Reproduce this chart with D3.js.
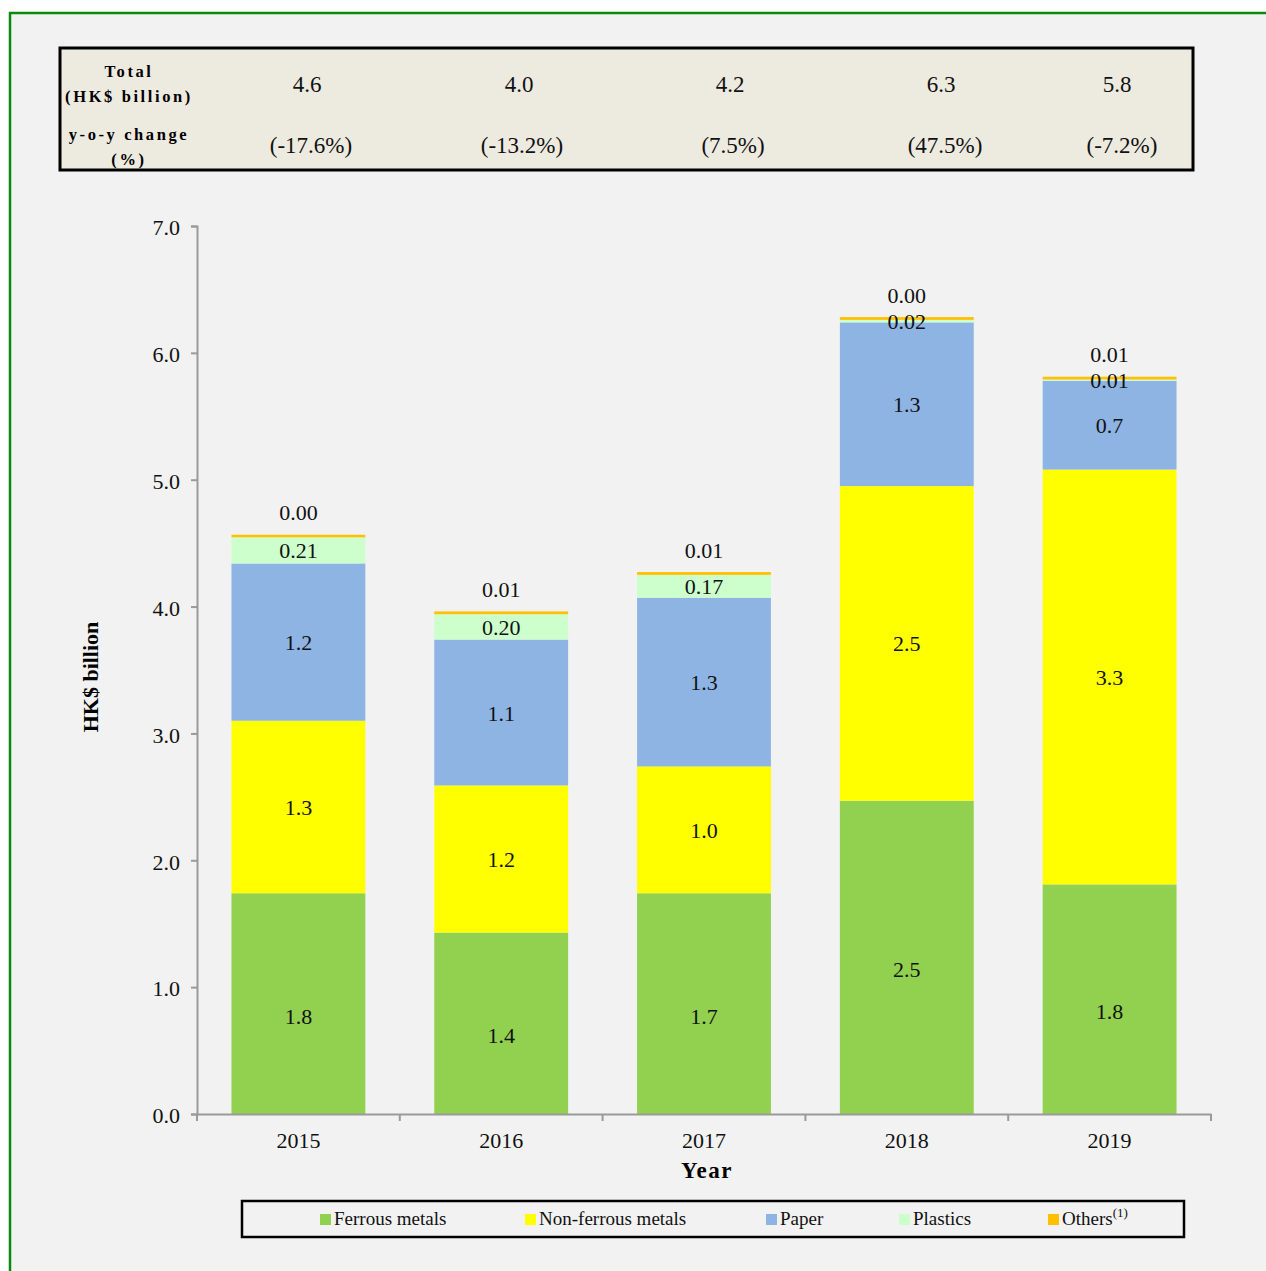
<!DOCTYPE html>
<html><head><meta charset="utf-8">
<script src="https://cdn.jsdelivr.net/npm/d3@7"></script>
<style>body{margin:0;background:#fff;} svg{display:block;}</style>
</head><body>
<svg id="chart" width="1266" height="1271"></svg>
<script>
const years = ["2015","2016","2017","2018","2019"];
const seriesNames = ["Ferrous metals","Non-ferrous metals","Paper","Plastics","Others"];
const ferrous    = [1.74, 1.43, 1.74, 2.47, 1.81];
const nonFerrous = [1.36, 1.16, 1.00, 2.48, 3.27];
const paper      = [1.24, 1.15, 1.33, 1.29, 0.70];
const plastics   = [0.21, 0.20, 0.18, 0.02, 0.01];
const others     = [0.004, 0.01, 0.01, 0.01, 0.01];
const ferrousLbl    = ["1.8","1.4","1.7","2.5","1.8"];
const nonFerrousLbl = ["1.3","1.2","1.0","2.5","3.3"];
const paperLbl      = ["1.2","1.1","1.3","1.3","0.7"];
const plasticsLbl   = ["0.21","0.20","0.17","0.02","0.01"];
const othersLbl     = ["0.00","0.01","0.01","0.00","0.01"];
const totals  = ["4.6","4.0","4.2","6.3","5.8"];
const yoy     = ["(-17.6%)","(-13.2%)","(7.5%)","(47.5%)","(-7.2%)"];
const yTicks  = [0,1,2,3,4,5,6,7];
const colors  = ["#92d050","#ffff00","#8eb4e3","#ccffcc","#ffc000"];

const svg = d3.select("#chart");
const serif = "'Liberation Serif','Times New Roman',serif";

// frame
svg.append("rect").attr("x",10).attr("y",13).attr("width",1270).attr("height",1280)
  .attr("fill","#f2f2f2").attr("stroke","#0a8a0a").attr("stroke-width",2.5);

// table
svg.append("rect").attr("x",60).attr("y",48).attr("width",1133).attr("height",122)
  .attr("fill","#edeae0").attr("stroke","#000").attr("stroke-width",3);
const hdr = [["Total",73],["(HK$ billion)",98],["y-o-y change",136],["(%)",161]];
svg.selectAll("text.hdr").data(hdr).enter().append("text")
  .attr("x",129).attr("y",d=>d[1]).attr("text-anchor","middle").attr("dominant-baseline","middle")
  .attr("font-family",serif).attr("font-weight","bold").attr("font-size",16.5)
  .attr("letter-spacing",2.6).text(d=>d[0]);
const totX = [307,519,730,941,1117];
const yoyX = [311,522,733,945,1122];
svg.selectAll("text.tot").data(totals).enter().append("text")
  .attr("x",(d,i)=>totX[i]).attr("y",87).attr("text-anchor","middle").attr("dominant-baseline","middle")
  .attr("font-family",serif).attr("font-size",23).attr("fill","#111").text(d=>d);
svg.selectAll("text.yoy").data(yoy).enter().append("text")
  .attr("x",(d,i)=>yoyX[i]).attr("y",148).attr("text-anchor","middle").attr("dominant-baseline","middle")
  .attr("font-family",serif).attr("font-size",23).attr("fill","#111").text(d=>d);

// scales
const x = d3.scaleBand().domain(years).range([197,1211]).paddingInner(0.34).paddingOuter(0.17);
const y = d3.scaleLinear().domain([0,7]).range([1114,226]);

const table = years.map((yr,i)=>({year:yr, s0:ferrous[i], s1:nonFerrous[i], s2:paper[i], s3:plastics[i], s4:others[i]}));
const stack = d3.stack().keys(["s0","s1","s2","s3","s4"])(table);
const labels = [ferrousLbl, nonFerrousLbl, paperLbl, plasticsLbl, othersLbl];

stack.forEach((layer,k)=>{
  svg.append("g").selectAll("rect").data(layer).enter().append("rect")
    .attr("x",d=>x(d.data.year)).attr("width",x.bandwidth())
    .attr("y",d=>y(d[1]) - (k===4?1.5:0))
    .attr("height",d=>Math.max(y(d[0])-y(d[1]) + (k===4?1.5:0), k===4?2.5:0))
    .attr("fill",colors[k]);
});
stack.forEach((layer,k)=>{
  svg.append("g").selectAll("text").data(layer).enter().append("text")
    .attr("x",d=>x(d.data.year)+x.bandwidth()/2)
    .attr("y",d=> k===4 ? y(d[1])-21 : (y(d[0])+y(d[1]))/2 + (k===0?15:3))
    .attr("text-anchor","middle").attr("dominant-baseline","middle")
    .attr("font-family",serif).attr("font-size",22).attr("fill","#111")
    .text((d,i)=>labels[k][i]);
});

// axes
const axisColor = "#9a9a9a";
const yAxis = svg.append("g").attr("transform","translate(197,0)")
  .call(d3.axisLeft(y).tickValues(yTicks).tickFormat(d3.format(".1f")).tickSize(6).tickPadding(11));
yAxis.select(".domain").attr("stroke",axisColor).attr("stroke-width",2);
yAxis.selectAll(".tick line").attr("stroke",axisColor).attr("stroke-width",2);
yAxis.selectAll("text").attr("font-family",serif).attr("font-size",22).attr("fill","#111").attr("dy","0.4em");

const xAxis = svg.append("g").attr("transform","translate(0,1114)")
  .call(d3.axisBottom(x).tickSize(0).tickPadding(18));
xAxis.select(".domain").attr("stroke",axisColor).attr("stroke-width",2);
xAxis.selectAll("text").attr("font-family",serif).attr("font-size",22).attr("fill","#111");
const bounds = years.map(yr=>x(yr)-(x.step()-x.bandwidth())/2).concat([1211]);
svg.append("g").selectAll("line").data(bounds).enter().append("line")
  .attr("x1",d=>d).attr("x2",d=>d).attr("y1",1114).attr("y2",1121)
  .attr("stroke",axisColor).attr("stroke-width",2);

svg.append("text").attr("x",707).attr("y",1173).attr("text-anchor","middle").attr("dominant-baseline","middle")
  .attr("font-family",serif).attr("font-weight","bold").attr("font-size",23).attr("letter-spacing",1.5).text("Year");
svg.append("text").attr("transform","translate(93,677) rotate(-90)").attr("text-anchor","middle")
  .attr("dominant-baseline","middle").attr("font-family",serif).attr("font-weight","bold").attr("font-size",22)
  .text("HK$ billion");

// legend
svg.append("rect").attr("x",242).attr("y",1201).attr("width",942).attr("height",36)
  .attr("fill","none").attr("stroke","#000").attr("stroke-width",2.5);
const legX = [320,525,766,899,1048];
const leg = svg.append("g").selectAll("g").data(seriesNames).enter().append("g")
  .attr("transform",(d,i)=>`translate(${legX[i]},1220)`);
leg.append("rect").attr("x",0).attr("y",-6).attr("width",11).attr("height",11).attr("fill",(d,i)=>colors[i]);
const lt = leg.append("text").attr("x",14).attr("y",1).attr("dominant-baseline","middle")
  .attr("font-family",serif).attr("font-size",19).attr("fill","#111").text(d=>d);
lt.filter((d,i)=>i===4).append("tspan").attr("dy",-7).attr("font-size",13).text("(1)");
</script>
</body></html>
